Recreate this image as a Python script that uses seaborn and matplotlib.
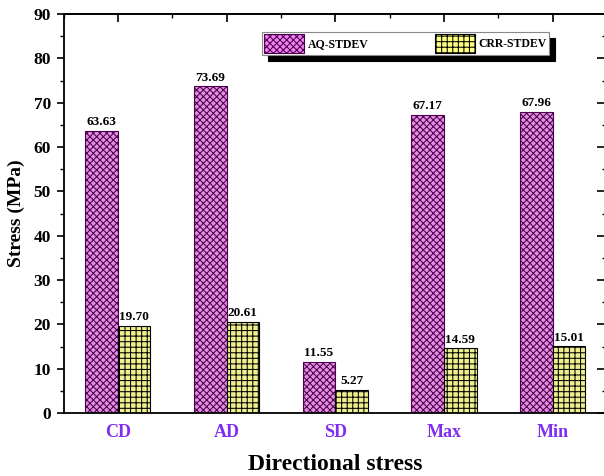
import matplotlib
matplotlib.use("Agg")
import matplotlib.pyplot as plt
import seaborn as sns
import pandas as pd
from matplotlib.ticker import MultipleLocator
from matplotlib.patches import Patch

categories = ["CD", "AD", "SD", "Max", "Min"]
aq_values = [63.63, 73.69, 11.55, 67.17, 67.96]
crr_values = [19.70, 20.61, 5.27, 14.59, 15.01]
series_names = ["AQ-STDEV", "CRR-STDEV"]

df = pd.DataFrame({
    "cat": categories * 2,
    "val": aq_values + crr_values,
    "series": [series_names[0]] * len(categories) + [series_names[1]] * len(categories),
})

sns.set_theme(style="white")
plt.rcParams["font.family"] = ["Liberation Serif", "DejaVu Serif"]
plt.rcParams["font.weight"] = "bold"
plt.rcParams["hatch.linewidth"] = 0.75
for k in ["text.color", "axes.labelcolor", "xtick.color", "ytick.color"]:
    plt.rcParams[k] = "black"

pink = "#F27EF2"
yellow = "#FFFF80"
hatch_cols = ["#4A004A", "#000000"]
hatches = ["xxxxx", "+++"]

fig = plt.figure(figsize=(6.04, 4.76), dpi=100)
ax = fig.add_axes([63.5 / 604, 63 / 476, (607 - 63.5) / 604, 399 / 476])

sns.barplot(data=df, x="cat", y="val", hue="series", order=categories,
            hue_order=series_names, palette=[pink, yellow], width=0.6,
            ax=ax, legend=False, errorbar=None)

for cont, h, ec in zip(ax.containers, hatches, hatch_cols):
    for p in cont:
        p.set_hatch(h)
        p.set_edgecolor(ec)
        p.set_linewidth(0.8)
    ax.bar_label(cont, fmt="%.2f", padding=2, fontsize=9.5, fontweight="bold", color="black")

ax.set_xlim(-0.5, 4.5)
ax.set_ylim(0, 90)
ax.yaxis.set_major_locator(MultipleLocator(10))
ax.yaxis.set_minor_locator(MultipleLocator(5))

for s in ax.spines.values():
    s.set_visible(True)
    s.set_color("black")
    s.set_linewidth(1.3)

ax.tick_params(axis="y", which="major", direction="out", length=5, width=1.2,
               left=True, labelsize=12.5, pad=4, colors="black")
ax.tick_params(axis="y", which="minor", direction="out", length=3, width=1.0, left=True)
ax.tick_params(axis="x", which="both", length=0, bottom=False, pad=8, labelsize=13,
               labelcolor="#7F2EF0")
for lbl in ax.get_xticklabels() + ax.get_yticklabels():
    lbl.set_fontweight("bold")

# top ticks (inward)
sec_x = ax.secondary_xaxis("top")
sec_x.set_xticks(range(len(categories)))
sec_x.xaxis.set_minor_locator(MultipleLocator(0.5))
sec_x.tick_params(which="major", direction="in", length=6, width=1.2, labeltop=False)
sec_x.tick_params(which="minor", direction="in", length=3, width=1.0)
sec_x.spines["top"].set_linewidth(1.3)

# right ticks (inward)
sec_y = ax.secondary_yaxis("right")
sec_y.yaxis.set_major_locator(MultipleLocator(10))
sec_y.yaxis.set_minor_locator(MultipleLocator(5))
sec_y.tick_params(which="major", direction="in", length=7, width=1.2, labelright=False)
sec_y.tick_params(which="minor", direction="in", length=3.5, width=1.0)

ax.set_xlabel("Directional stress", fontsize=17, fontweight="bold", labelpad=9)
ax.set_ylabel("Stress (MPa)", fontsize=14, fontweight="bold", labelpad=6)

handles = [Patch(facecolor=pink, edgecolor=hatch_cols[0], hatch=hatches[0], linewidth=0.8),
           Patch(facecolor=yellow, edgecolor=hatch_cols[1], hatch=hatches[1], linewidth=0.8)]
leg = ax.legend(handles, series_names, loc="upper left", bbox_to_anchor=(0.365, 0.955),
                borderaxespad=0, ncol=2, frameon=True, fancybox=False,
                shadow={"ox": 4.5, "oy": -4.5, "color": "black", "alpha": 1},
                prop={"weight": "bold", "size": 8.5}, handlelength=3.4, handleheight=2.0,
                handletextpad=0.3, columnspacing=5.6, borderpad=0.2)
leg.get_frame().set_edgecolor("#888888")
leg.get_frame().set_linewidth(0.8)

fig.savefig("out.png", dpi=100)
